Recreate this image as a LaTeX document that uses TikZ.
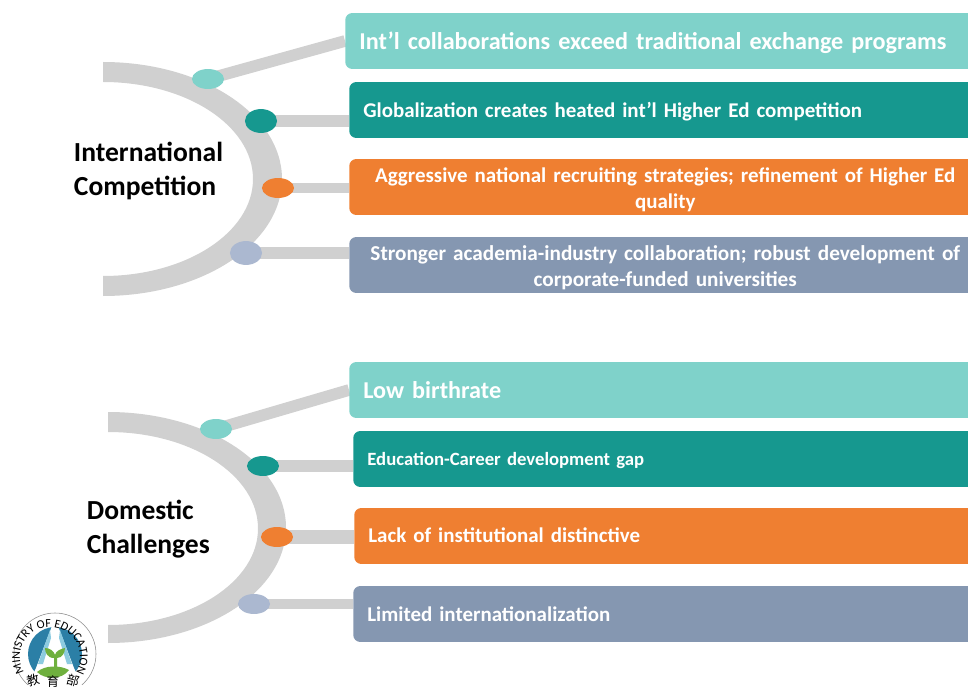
\documentclass[tikz,border=0pt]{standalone}
\usepackage{fontspec}
\setmainfont{Carlito}
\newfontfamily\cjk{Noto Sans CJK SC}
\usetikzlibrary{backgrounds,calc,decorations.text,shapes.geometric}
\def\dropline[#1]#2{\raisebox{-#1}[0.7em][0.2em]{#2}}
\definecolor{arcgray}{HTML}{D0D0D0}
\definecolor{mint}{HTML}{7FD2CA}
\definecolor{teal}{HTML}{16988F}
\definecolor{carrot}{HTML}{EF7F31}
\definecolor{slate}{HTML}{8597B1}
\definecolor{slatedot}{HTML}{ABB8D0}
\definecolor{logoblue}{HTML}{2B7FA6}
\definecolor{logosky}{HTML}{8CCBE0}
\definecolor{logogreen}{HTML}{6FB03E}
\tikzset{
	boxnode/.style={rectangle, rounded corners=5pt, minimum height=39.8pt, text=white, font=\fontsize{14.9}{18.5}\selectfont\bfseries, inner xsep=10pt, inner ysep=0pt, anchor=west},
	leftbox/.style={boxnode, minimum width=449.4pt, text width=429.4pt, align=left},
	midbox/.style={boxnode, minimum width=449.4pt, text width=429.4pt, align=center},
	dotnode/.style={ellipse, minimum width=22.8pt, minimum height=14.2pt, inner sep=0pt},
	headnode/.style={font=\fontsize{19.6}{24}\selectfont\bfseries, align=left, anchor=west},
	logochar/.style={font=\cjk\fontsize{9}{9}\selectfont, inner sep=0pt},
	connector/.style={draw=arcgray, line width=8.3pt}
}
\begin{document}
\begin{tikzpicture}[x=0.025cm, y=-0.025cm]
			%%%%% FRAME %%%%%
			\clip (0, 0) rectangle (968, 689);

			%%%%% INTERNATIONAL %%%%%
			\node[boxnode, fill=mint, minimum width=449.4pt, text width=429.4pt, align=left, font=\fontsize{17.2}{20}\selectfont\bfseries] (box1) at (345, 41) {\dropline[2pt]{Int’l collaborations exceed traditional exchange programs}};
			\node[leftbox, fill=teal] (box2) at (349, 110) {\dropline[1.4pt]{Globalization creates heated int’l Higher Ed competition}};
			\node[midbox, fill=carrot] (box3) at (349, 187) {\dropline[2pt]{Aggressive national recruiting strategies; refinement of Higher Ed}\\\dropline[2pt]{quality}};
			\node[midbox, fill=slate, font=\fontsize{15.1}{18.5}\selectfont\bfseries] (box4) at (349, 265) {\dropline[2pt]{Stronger academia-industry collaboration; robust development of}\\\dropline[2pt]{corporate-funded universities}};

			\node[dotnode, fill=mint] (dot1) at (208, 79) {};
			\node[dotnode, fill=teal, minimum height=17pt] (dot2) at (261, 121) {};
			\node[dotnode, fill=carrot] (dot3) at (278, 188) {};
			\node[dotnode, fill=slatedot, minimum height=17pt] (dot4) at (246, 253) {};

			\node[headnode] (head1) at (69, 171) {International\\Competition};

			%%%%% DOMESTIC %%%%%
			\node[leftbox, fill=mint, font=\fontsize{17.2}{20}\selectfont\bfseries] (box5) at (349, 390) {Low birthrate};
			\node[leftbox, fill=teal, font=\fontsize{13.3}{18}\selectfont\bfseries] (box6) at (353, 459) {\dropline[1.4pt]{Education-Career development gap}};
			\node[leftbox, fill=carrot] (box7) at (354, 536) {\dropline[0.7pt]{Lack of institutional distinctive}};
			\node[leftbox, fill=slate] (box8) at (353, 614) {Limited internationalization};

			\node[dotnode, fill=mint] (dot5) at (216, 429) {};
			\node[dotnode, fill=teal] (dot6) at (263, 466) {};
			\node[dotnode, fill=carrot] (dot7) at (277, 537) {};
			\node[dotnode, fill=slatedot] (dot8) at (254, 604) {};

			\node[headnode] (head2) at (82, 529) {Domestic\\Challenges};

			%%%%% ARCS AND CONNECTORS %%%%%
			\begin{scope}[on background layer]
				\fill[arcgray] (103, 62) arc (-90:90:179 and 117) -- (103, 276) arc (90:-90:150 and 97) -- cycle;
				\fill[arcgray] (108, 412) arc (-90:90:178 and 115.5) -- (108, 625) arc (90:-90:150 and 96.5) -- cycle;

				\draw[connector] (dot1.center) -- (box1.west);
				\draw[connector] (dot2.center) -- (dot2 -| box2.west);
				\draw[connector, line width=7.6pt] (dot3.center) -- (dot3 -| box3.west);
				\draw[connector] (dot4.center) -- (dot4 -| box4.west);
				\draw[connector] (dot5.center) -- (box5.west);
				\draw[connector, line width=8.7pt] (dot6.center) -- (dot6 -| box6.west);
				\draw[connector, line width=10.6pt] (dot7.center) -- (dot7 -| box7.west);
				\draw[connector, line width=6.6pt] (dot8.center) -- (dot8 -| box8.west);
			\end{scope}

			%%%%% LOGO %%%%%
			\coordinate (logo) at (55, 654);
			\draw[black!45, line width=0.4pt] (logo) circle (41);
			\fill[logoblue] (logo) circle (27);
			\fill[white] (52, 626) -- (58, 626) -- (74, 668) -- (84, 690) -- (26, 690) -- (36, 668) -- cycle;
			\fill[logosky] (50, 630) -- (38, 664) -- (43, 664) -- (51, 638) -- cycle;
			\fill[logosky] (60, 630) -- (72, 664) -- (67, 664) -- (59, 638) -- cycle;
			\fill[logogreen] (37, 672) .. controls (45, 665) and (60, 665) .. (69, 670) .. controls (62, 680) and (45, 680) .. (37, 672) -- cycle;
			\fill[logogreen] (54, 668) -- (54, 658) .. controls (47, 658) and (45, 652) .. (45, 648) .. controls (50, 648) and (54, 651) .. (55, 655) .. controls (56, 651) and (60, 649) .. (65, 648) .. controls (65, 653) and (62, 658) .. (57, 658) -- (57, 668) -- cycle;
			\path[postaction={decorate, decoration={text along path, text align=center, text={|\fontsize{8.6}{9}\selectfont|MINISTRY OF EDUCATION}}}] (24, 672) arc (150:390:30 and 30);
			\node[logochar, rotate=15] (logoa) at (33, 680) {教};
			\node[logochar] (logob) at (53, 682) {育};
			\node[logochar, rotate=-15] (logoc) at (73, 680) {部};
		\end{tikzpicture}
\end{document}
